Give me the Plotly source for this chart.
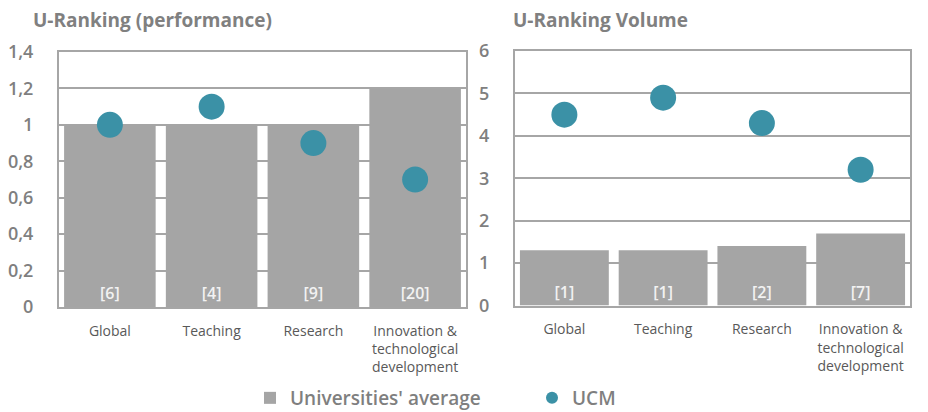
import plotly.graph_objects as go

# data
categories = ["Global", "Teaching", "Research", "Innovation &<br>technological<br>development"]

perf_avg = [1.0, 1.0, 1.0, 1.2]
perf_ucm = [1.0, 1.1, 0.9, 0.7]
perf_rank = ["[6]", "[4]", "[9]", "[20]"]

vol_avg = [1.3, 1.3, 1.4, 1.7]
vol_ucm = [4.5, 4.9, 4.3, 3.2]
vol_rank = ["[1]", "[1]", "[2]", "[7]"]

perf_ticks = [0, 0.2, 0.4, 0.6, 0.8, 1.0, 1.2, 1.4]
perf_ticktext = ["0", "0,2", "0,4", "0,6", "0,8", "1", "1,2", "1,4"]
vol_ticks = [0, 1, 2, 3, 4, 5, 6]

BAR = "#a5a5a5"
DOT = "#3b91a6"
GRID = "#a6a6a6"
FONT = "Open Sans"

# page body has an 8px margin, so the figure is 8px smaller than the window
W, H = 920, 404
OFF = 8


def px(x):
    return (x - OFF) / W


def py(y):
    return 1 - (y - OFF) / H


fig = go.Figure()

# left panel
fig.add_trace(go.Bar(x=categories, y=perf_avg, text=perf_rank, name="Universities' average",
                     marker=dict(color=BAR, line=dict(width=0)),
                     textposition="inside", insidetextanchor="start", textangle=0,
                     textfont=dict(color="#f2f2f2", size=16, family=FONT, weight=600),
                     xaxis="x", yaxis="y", showlegend=True, legendgroup="avg"))
fig.add_trace(go.Scatter(x=categories, y=perf_ucm, mode="markers", name="UCM",
                         marker=dict(color=DOT, size=26, line=dict(width=0)),
                         xaxis="x", yaxis="y", showlegend=True, legendgroup="ucm"))

# right panel
fig.add_trace(go.Bar(x=categories, y=vol_avg, text=vol_rank, name="Universities' average",
                     marker=dict(color=BAR, line=dict(width=0)),
                     textposition="inside", insidetextanchor="start", textangle=0,
                     textfont=dict(color="#f2f2f2", size=16, family=FONT, weight=600),
                     xaxis="x2", yaxis="y2", showlegend=False, legendgroup="avg"))
fig.add_trace(go.Scatter(x=categories, y=vol_ucm, mode="markers", name="UCM",
                         marker=dict(color=DOT, size=26, line=dict(width=0)),
                         xaxis="x2", yaxis="y2", showlegend=False, legendgroup="ucm"))

xcommon = dict(type="category", showgrid=False, showline=True, mirror=True, automargin=False,
               linecolor=GRID, linewidth=2, ticks="", ticklabelstandoff=10,
               tickfont=dict(size=14, color="#595959", family=FONT))
ycommon = dict(showgrid=True, gridcolor=GRID, gridwidth=2, showline=True, mirror=True,
               automargin=False, linecolor=GRID, linewidth=2, zeroline=False, ticks="",
               ticklabelstandoff=20,
               tickfont=dict(size=18, color="#7f7f7f", family=FONT, weight=600))

fig.update_layout(
    template="none",
    width=W, height=H,
    margin=dict(l=0, r=0, t=0, b=0, autoexpand=False),
    paper_bgcolor="white", plot_bgcolor="white",
    font=dict(family=FONT, color="#7f7f7f"),
    bargap=0.1,
    separators=",.",
    xaxis=dict(domain=[px(59), px(466)], anchor="y", **xcommon),
    yaxis=dict(domain=[py(307), py(52)], anchor="x", range=[0, 1.4],
               tickvals=perf_ticks, ticktext=perf_ticktext, **ycommon),
    xaxis2=dict(domain=[px(515), px(910)], anchor="y2", **xcommon),
    yaxis2=dict(domain=[py(305.5), py(51)], anchor="x2", range=[0, 6],
                tickvals=vol_ticks, **ycommon),
    legend=dict(orientation="h", x=px(250), xanchor="left", y=py(398), yanchor="middle",
                entrywidth=237, itemsizing="constant",
                font=dict(size=19, color="#7f7f7f", family=FONT, weight=600)),
    annotations=[
        dict(text="<b>U-Ranking (performance)</b>", x=px(31), y=py(20), xref="paper", yref="paper",
             xanchor="left", yanchor="middle", showarrow=False,
             font=dict(size=19, color="#808080", family=FONT)),
        dict(text="<b>U-Ranking Volume</b>", x=px(511), y=py(20), xref="paper", yref="paper",
             xanchor="left", yanchor="middle", showarrow=False,
             font=dict(size=19, color="#808080", family=FONT)),
    ],
)

fig.write_html("out.html")
